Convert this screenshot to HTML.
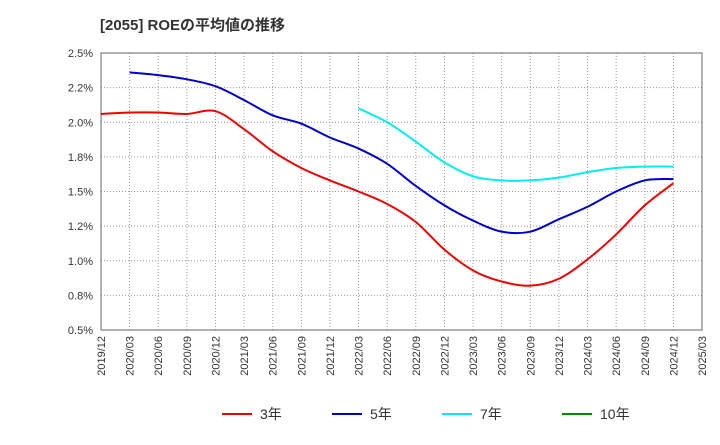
<!DOCTYPE html>
<html><head><meta charset="utf-8"><style>
body{margin:0;background:#fff;font-family:"Liberation Sans","Noto Sans CJK JP",sans-serif;}
</style></head><body>
<svg id="chart" width="720" height="440" xmlns="http://www.w3.org/2000/svg">
<text x="100" y="30" font-size="15" font-weight="bold" fill="#333">[2055]  ROEの平均値の推移</text>
<g id="grid"></g><g id="axes"></g><g id="series"></g><g id="legend"></g>
</svg>
<script>
const categories=["2019/12","2020/03","2020/06","2020/09","2020/12","2021/03","2021/06","2021/09","2021/12","2022/03","2022/06","2022/09","2022/12","2023/03","2023/06","2023/09","2023/12","2024/03","2024/06","2024/09","2024/12","2025/03"];
const yTicks=[0.5,0.75,1.0,1.25,1.5,1.75,2.0,2.25,2.5];
const yTickLabels=["0.5%","0.8%","1.0%","1.2%","1.5%","1.8%","2.0%","2.2%","2.5%"];
const s3=[2.06,2.07,2.07,2.06,2.08,1.95,1.79,1.67,1.58,1.50,1.41,1.28,1.08,0.93,0.85,0.82,0.87,1.01,1.19,1.40,1.56];
const s5=[null,2.36,2.34,2.31,2.26,2.16,2.05,1.99,1.89,1.81,1.70,1.54,1.40,1.29,1.21,1.21,1.30,1.39,1.50,1.58,1.59];
const s7=[null,null,null,null,null,null,null,null,null,2.10,2.00,1.86,1.71,1.61,1.58,1.58,1.60,1.64,1.67,1.68,1.68];
const s10=[];
const seriesNames=["3年","5年","7年","10年"];
const colors=["#e00","#00c","#0ee","#080"];
const X0=101,X1=702,Y0=330,Y1=53;
const xs=i=>X0+i*(X1-X0)/(categories.length-1);
const ys=v=>Y0-(v-0.5)/2.0*(Y0-Y1);
const NS="http://www.w3.org/2000/svg";
function mk(t,a,p){const e=document.createElementNS(NS,t);for(const k in a)e.setAttribute(k,a[k]);p.appendChild(e);return e;}
const grid=document.getElementById('grid'),axes=document.getElementById('axes'),ser=document.getElementById('series'),leg=document.getElementById('legend');
yTicks.forEach((v,i)=>{const y=ys(v);
 const l=mk('line',{x1:X0,x2:X1,y1:y,y2:y,stroke:'#999','stroke-dasharray':'1,2'},grid);
 
 
 const t=mk('text',{x:X0-8,y:y+4,'text-anchor':'end','font-size':11,fill:'#333'},axes);t.textContent=yTickLabels[i];
 
 
});
categories.forEach((c,i)=>{const x=xs(i);
 const l=mk('line',{x1:x,x2:x,y1:Y1,y2:Y0,stroke:'#999','stroke-dasharray':'1,2'},grid);
 
 
 const t=mk('text',{x:x+4,y:Y0+6,'text-anchor':'end','font-size':11,fill:'#333',transform:`rotate(-90 ${x+4} ${Y0+6})`},axes);t.textContent=c;
 
 
});
const fr=mk('rect',{x:X0,y:Y1,width:X1-X0,height:Y0-Y1,fill:'none',stroke:'#666'},axes);


function path(data){const p=[];data.forEach((v,i)=>{if(v!=null)p.push([xs(i),ys(v)]);});if(p.length<2)return '';
 let d=`M${p[0][0]},${p[0][1]}`;
 for(let i=0;i<p.length-1;i++){const a=p[i-1]||p[i],b=p[i],c=p[i+1],e=p[i+2]||c;
  d+=` C${b[0]+(c[0]-a[0])/6},${b[1]+(c[1]-a[1])/6} ${c[0]-(e[0]-b[0])/6},${c[1]-(e[1]-b[1])/6} ${c[0]},${c[1]}`;}
 return d;}
[s3,s5,s7,s10].forEach((s,k)=>{const d=path(s);if(d){const e=mk('path',{d:d,fill:'none',stroke:colors[k],'stroke-width':2},ser);
 
 }
 const lx=[222,332,442,562][k];
 const l=mk('line',{x1:lx,x2:lx+30,y1:414,y2:414,stroke:colors[k],'stroke-width':2},leg);
 
 
 const t=mk('text',{x:lx+38,y:419,'font-size':14,fill:'#333'},leg);t.textContent=seriesNames[k];
 
 
});
</script>
</body></html>
